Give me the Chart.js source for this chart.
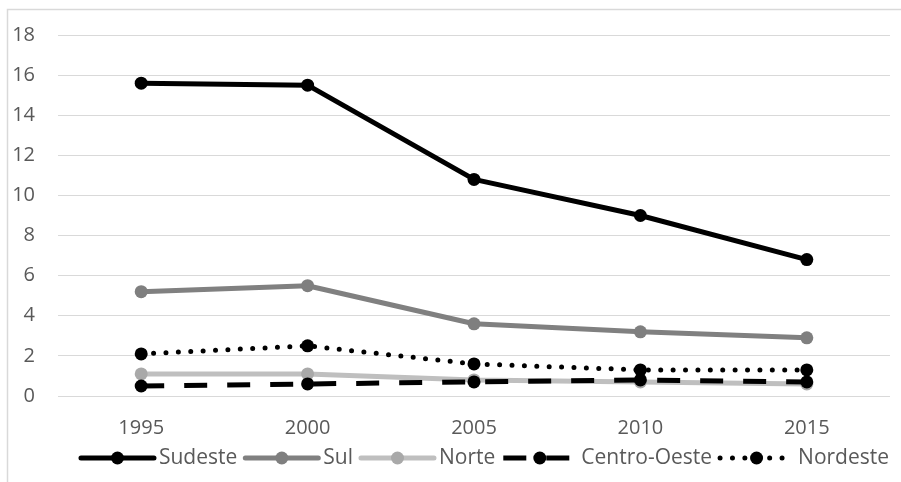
<!DOCTYPE html>
<html>
<head>
<meta charset="utf-8">
<script src="https://cdn.jsdelivr.net/npm/chart.js@4/dist/chart.umd.min.js"></script>
<style>
  html, body { margin: 0; padding: 0; background: #ffffff; }
  #wrap { width: 901px; height: 482px; }
</style>
</head>
<body>
<div id="wrap"><canvas id="c" width="901" height="482"></canvas></div>
<script>
// Years on the horizontal axis
const years = ['1995', '2000', '2005', '2010', '2015'];

// Values per region
const sudeste = [15.6, 15.5, 10.8, 9.0, 6.8];
const sul = [5.2, 5.5, 3.6, 3.2, 2.9];
const norte = [1.1, 1.1, 0.8, 0.7, 0.6];
const centroOeste = [0.5, 0.6, 0.7, 0.8, 0.7];
const nordeste = [2.1, 2.5, 1.6, 1.3, 1.3];

// Vertical axis range
const yMin = 0;
const yMax = 18;
const yStep = 2;

const FONT = '"Open Sans", "DejaVu Sans", sans-serif';
const TEXT = '#595959';

function series(label, data, line, point, extra) {
  return Object.assign({
    label: label,
    data: data,
    borderColor: line,
    backgroundColor: point,
    borderWidth: 5,
    borderCapStyle: 'round',
    borderJoinStyle: 'round',
    pointRadius: 6.5,
    pointHoverRadius: 6.5,
    pointBackgroundColor: point,
    pointBorderColor: point,
    pointBorderWidth: 0,
    tension: 0,
    fill: false
  }, extra || {});
}

// Light grey frame around the chart
const framePlugin = {
  id: 'frame',
  beforeDraw(chart) {
    const ctx = chart.ctx;
    ctx.save();
    ctx.strokeStyle = '#d9d9d9';
    ctx.lineWidth = 1.5;
    ctx.beginPath();
    ctx.moveTo(7.5, chart.height);
    ctx.lineTo(7.5, 9.5);
    ctx.lineTo(chart.width, 9.5);
    ctx.stroke();
    ctx.restore();
  }
};

// Legend showing each series' line style with its marker
const lineLegend = {
  id: 'lineLegend',
  afterDraw(chart, args, opts) {
    const ctx = chart.ctx;
    ctx.save();
    ctx.font = opts.font;
    const items = chart.data.datasets.map(ds => ({ ds, w: ctx.measureText(ds.label).width }));
    const total = items.reduce((s, it) => s + opts.sample + opts.textGap + it.w, 0) +
      opts.itemGap * (items.length - 1);
    let x = opts.centerX - total / 2;
    const y = opts.y;
    items.forEach(({ ds, w }) => {
      ctx.beginPath();
      ctx.setLineDash(ds.borderDash || []);
      ctx.lineCap = ds.borderCapStyle || 'butt';
      ctx.lineWidth = ds.borderWidth;
      ctx.strokeStyle = ds.borderColor;
      ctx.moveTo(x, y);
      ctx.lineTo(x + opts.sample, y);
      ctx.stroke();
      ctx.setLineDash([]);
      ctx.beginPath();
      ctx.fillStyle = ds.pointBackgroundColor;
      ctx.arc(x + opts.sample / 2, y, ds.pointRadius, 0, Math.PI * 2);
      ctx.fill();
      x += opts.sample + opts.textGap;
      ctx.fillStyle = TEXT;
      ctx.textAlign = 'left';
      ctx.textBaseline = 'middle';
      ctx.fillText(ds.label, x, y);
      x += w + opts.itemGap;
    });
    ctx.restore();
  }
};

new Chart(document.getElementById('c'), {
  type: 'line',
  data: {
    labels: years,
    datasets: [
      series('Sudeste', sudeste, '#000000', '#000000', { order: 5 }),
      series('Sul', sul, '#808080', '#7f7f7f', { order: 4 }),
      series('Norte', norte, '#bfbfbf', '#a9a9a9', { order: 3 }),
      series('Centro-Oeste', centroOeste, '#000000', '#000000',
        { order: 2, borderDash: [23, 20], borderCapStyle: 'butt' }),
      series('Nordeste', nordeste, '#000000', '#000000',
        { order: 1, borderDash: [0, 12.4], borderCapStyle: 'round' })
    ]
  },
  options: {
    responsive: false,
    animation: false,
    events: [],
    layout: { padding: { top: 31, right: 11, bottom: 38, left: 0 } },
    scales: {
      x: {
        offset: true,
        grid: { display: false },
        border: { display: false },
        ticks: { color: TEXT, font: { family: FONT, size: 20 }, padding: 12 },
        afterFit(scale) { scale.height = 48; }
      },
      y: {
        min: yMin,
        max: yMax,
        grid: { color: '#d9d9d9', lineWidth: 1, drawTicks: false },
        border: { display: false },
        ticks: { stepSize: yStep, color: TEXT, font: { family: FONT, size: 20 }, padding: 23 },
        afterFit(scale) { scale.width = 58; }
      }
    },
    plugins: {
      legend: { display: false },
      tooltip: { enabled: false },
      lineLegend: {
        font: '21px ' + FONT,
        centerX: 485,
        y: 458,
        sample: 73,
        textGap: 5,
        itemGap: 8
      }
    }
  },
  plugins: [framePlugin, lineLegend]
});
</script>
</body>
</html>
